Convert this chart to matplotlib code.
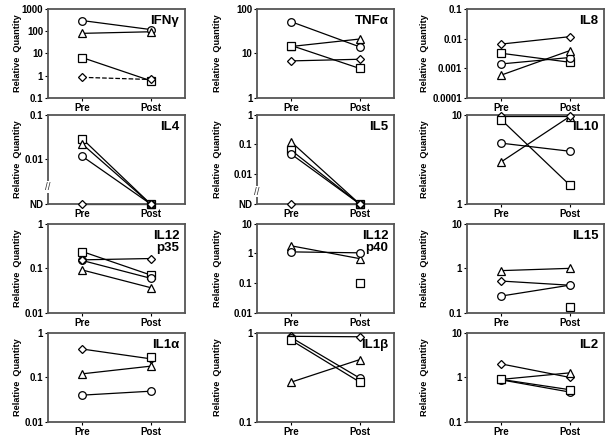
import matplotlib
matplotlib.use('Agg')
import matplotlib.pyplot as plt

plt.rcParams['font.family'] = ['Liberation Sans', 'DejaVu Sans']
plt.rcParams['font.weight'] = 'bold'

# values per panel: marker -> [pre, post], None = not shown
# ND (not detected) is drawn at the bottom of the axis
ND = 'ND'
ifng = {'o': [295, 117], '^': [79, 93], 's': [6.5, 0.6], 'D': [0.85, 0.68]}
tnfa = {'o': [51, 14], '^': [14.3, 21], 's': [15, 4.6], 'D': [6.8, 7.4]}
il8 = {'D': [0.0065, 0.0115], 's': [0.0032, 0.0016], 'o': [0.0014, 0.0023], '^': [0.00059, 0.0039]}
il4 = {'s': [0.029, ND], '^': [0.022, ND], 'o': [0.0117, ND], 'D': [ND, ND]}
il5 = {'^': [0.12, ND], 's': [0.063, ND], 'o': [0.047, ND], 'D': [ND, ND]}
il10 = {'^': [2.96, 9.5], 'D': [9.6, 9.6], 's': [8.8, 1.64], 'o': [4.8, 3.9]}
il12p35 = {'s': [0.238, 0.071], 'o': [0.15, 0.06], '^': [0.092, 0.037], 'D': [0.155, 0.166]}
il12p40 = {'^': [1.8, 0.67], 'o': [1.13, 1.05], 's': [None, 0.1]}
il15 = {'^': [0.89, 1.0], 'D': [0.52, 0.42], 'o': [0.24, 0.42], 's': [None, 0.138]}
il1a = {'D': [0.43, 0.26], 's': [None, 0.29], '^': [0.12, 0.178], 'o': [0.04, 0.049]}
il1b = {'D': [0.91, 0.9], 'o': [0.88, 0.31], 's': [0.82, 0.28], '^': [0.28, 0.5]}
il2 = {'D': [2.0, 1.0], 'o': [0.88, 0.47], '^': [0.9, 1.26], 's': [0.9, 0.53]}

panels = [
    ('IFNγ', ifng, (0.1, 1000)),
    ('TNFα', tnfa, (1, 100)),
    ('IL8', il8, (0.0001, 0.1)),
    ('IL4', il4, (0.001, 0.1)),
    ('IL5', il5, (0.001, 1)),
    ('IL10', il10, (1, 10)),
    ('IL12\np35', il12p35, (0.01, 1)),
    ('IL12\np40', il12p40, (0.01, 10)),
    ('IL15', il15, (0.1, 10)),
    ('IL1α', il1a, (0.01, 1)),
    ('IL1β', il1b, (0.1, 1)),
    ('IL2', il2, (0.1, 10)),
]

fig = plt.figure(figsize=(6.08, 4.36), dpi=100)
lefts = [0.079, 0.423, 0.768]
label_x = [-0.19, -0.255, -0.28]
bottoms = [0.775, 0.532, 0.282, 0.032]
w, h = 0.225, 0.205

def fmt(v):
    if v >= 1:
        return '%d' % v
    return ('%.4f' % v).rstrip('0')

for i, (name, series, (lo, hi)) in enumerate(panels):
    ax = fig.add_axes([lefts[i % 3], bottoms[i // 3], w, h])
    ax.set_yscale('log')
    ax.set_ylim(lo, hi)
    ax.set_xlim(-0.5, 1.5)
    has_nd = False
    for m, vals in series.items():
        ys = []
        for v in vals:
            if v == ND:
                has_nd = True
                ys.append(lo)
            else:
                ys.append(v)
        ls = '--' if (name == 'IFNγ' and m == 'D') else '-'
        if None not in ys:
            ax.plot([0, 1], ys, color='black', lw=0.9, ls=ls, zorder=2, clip_on=False)
        for x, y in zip([0, 1], ys):
            if y is None:
                continue
            ms = 4 if m == 'D' else 5.5
            ax.plot(x, y, marker=m, ms=ms, mfc='white', mec='black', mew=0.9,
                    zorder=3, clip_on=False)
    ticks = []
    t = lo
    while t <= hi * 1.0001:
        ticks.append(t)
        t *= 10
    ax.set_yticks(ticks)
    labels = [fmt(t) for t in ticks]
    if has_nd:
        labels[0] = 'ND'
    ax.set_yticklabels(labels)
    ax.minorticks_off()
    ax.set_xticks([0, 1])
    ax.set_xticklabels(['Pre', 'Post'])
    ax.tick_params(axis='both', labelsize=7, length=2.5, width=0.8, pad=1)
    for lab in ax.get_xticklabels() + ax.get_yticklabels():
        lab.set_fontweight('bold')
    for s in ax.spines.values():
        s.set_color('#555555')
        s.set_linewidth(1.3)
    ax.set_ylabel('Relative  Quantity', fontsize=6.6, fontweight='bold')
    ax.yaxis.set_label_coords(label_x[i % 3], 0.5)
    ax.text(0.96, 0.93, name, transform=ax.transAxes, ha='right', va='top',
            fontsize=9.5, fontweight='bold', linespacing=1.0)
    if has_nd:
        yb = 0.19 if name == 'IL4' else 0.14
        ax.text(0.0, yb, '//', transform=ax.transAxes, ha='center', va='center',
                fontsize=7, fontweight='normal', color='#333333',
                bbox=dict(fc='white', ec='none', pad=0.5))

fig.savefig('out.png', dpi=100)
